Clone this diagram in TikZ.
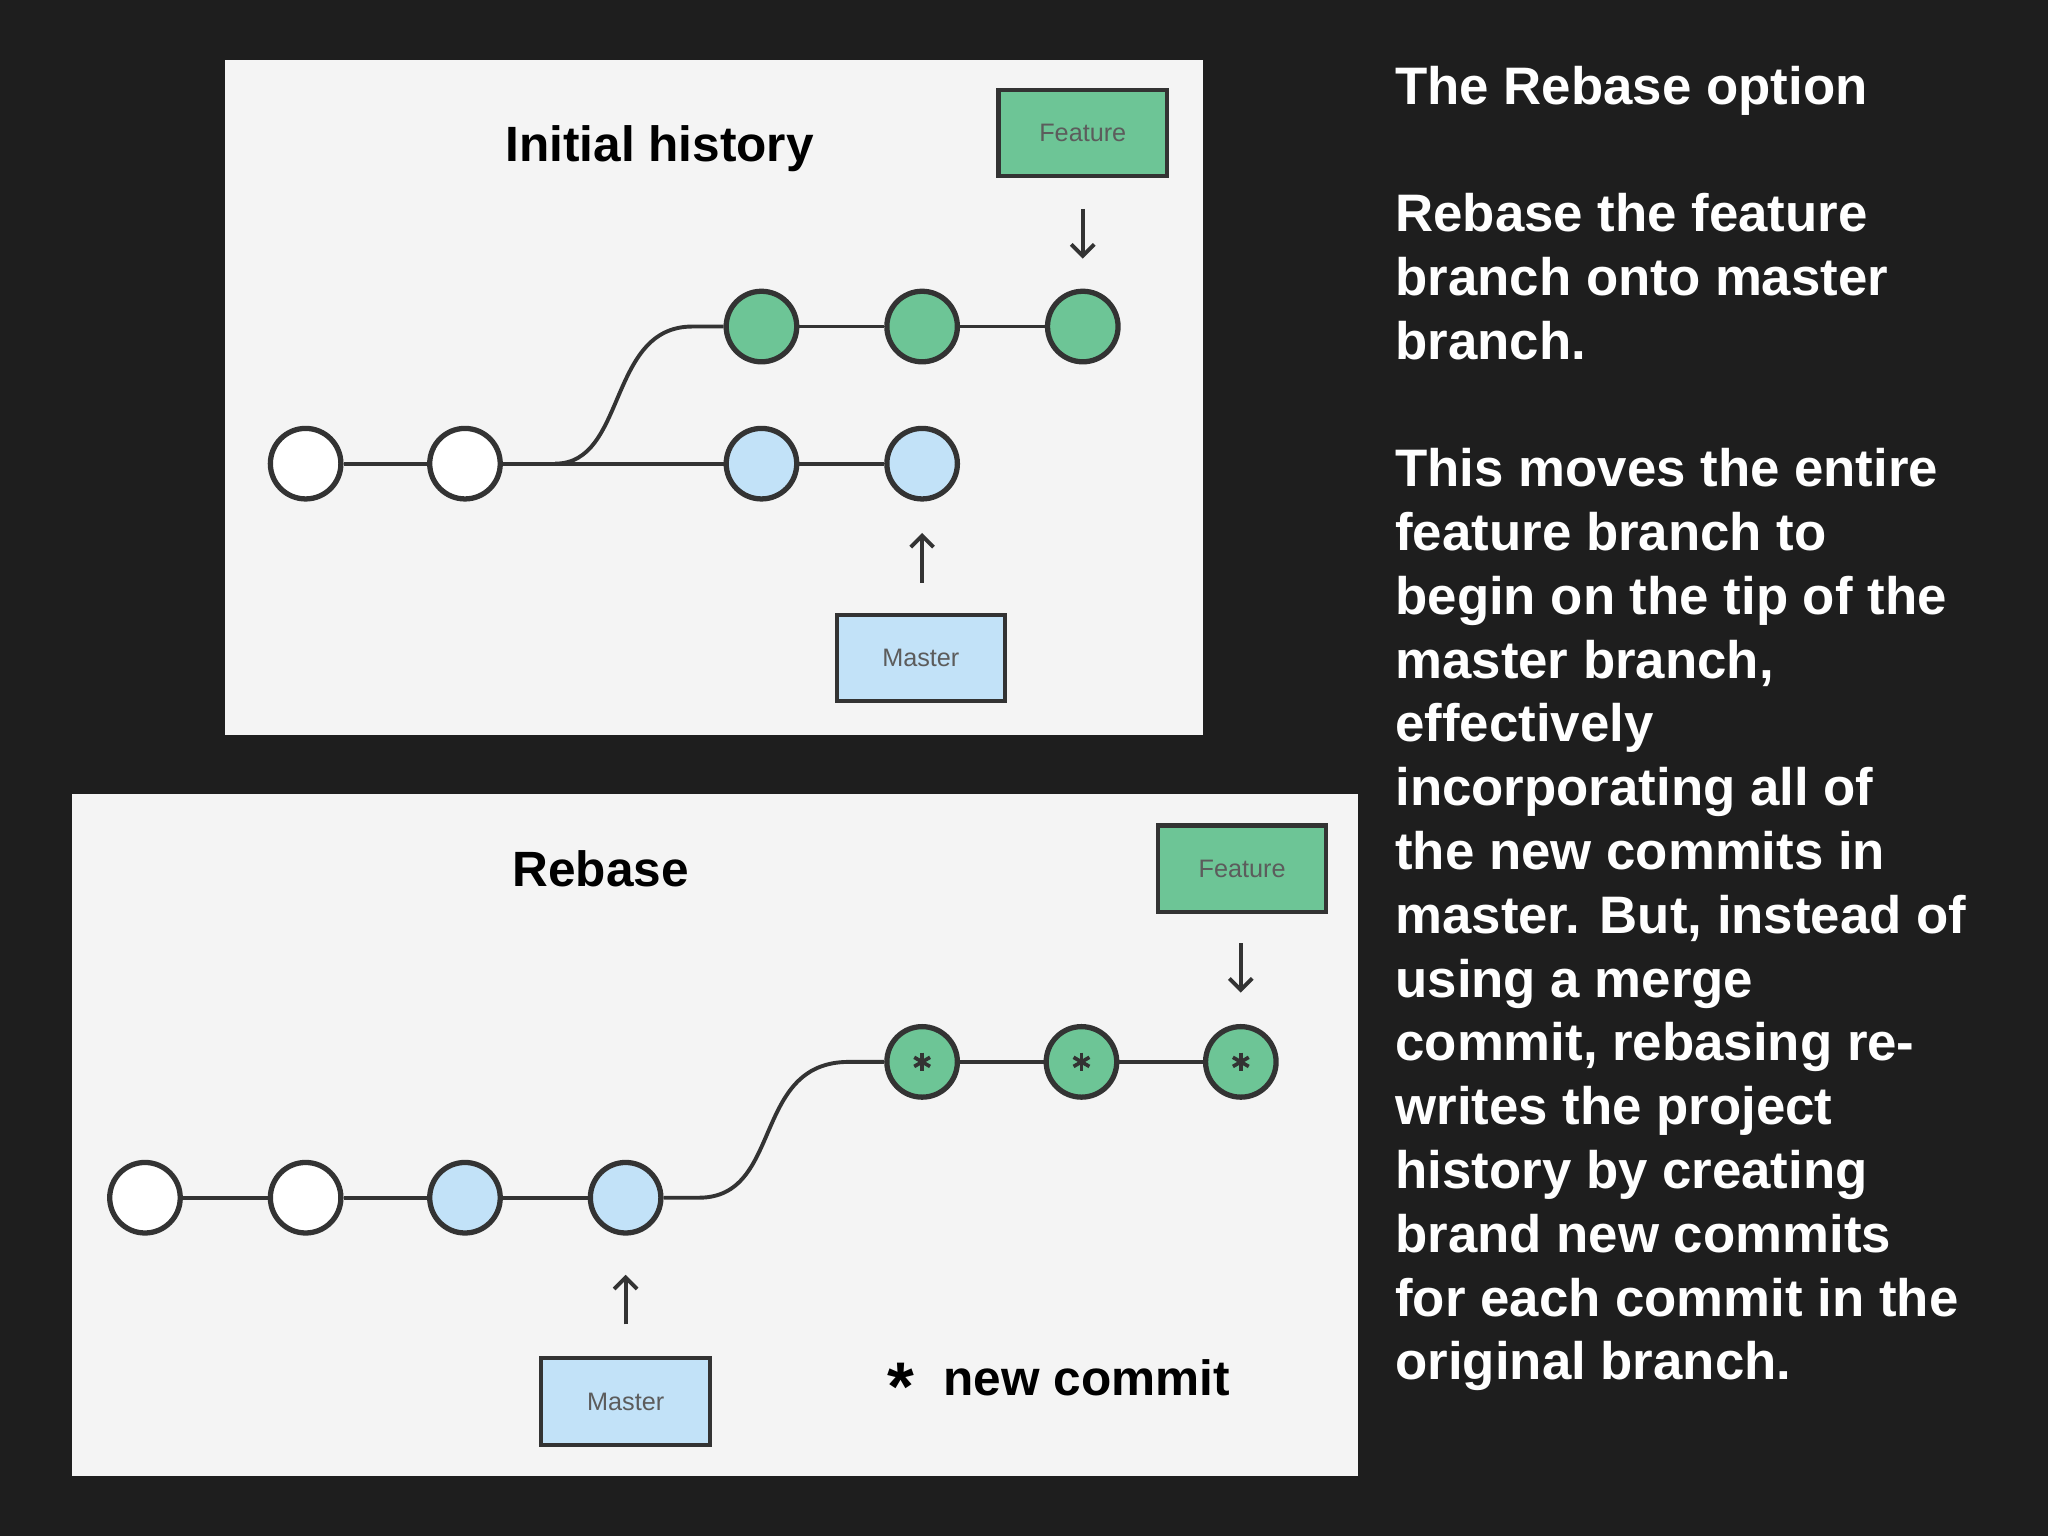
\documentclass[tikz,border=0pt]{standalone}
\usepackage{fontspec}
\setmainfont{Liberation Sans}
\usetikzlibrary{arrows.meta}
\definecolor{bg}{HTML}{1E1E1E}
\definecolor{panel}{HTML}{F4F4F4}
\definecolor{gr}{HTML}{6DC596}
\definecolor{bl}{HTML}{C2E2F8}
\definecolor{dk}{HTML}{333333}
\tikzset{
 commit/.style={circle,draw=dk,line width=2.3pt,minimum size=54*0.02cm,inner sep=0pt},
 wc/.style={commit,fill=white},
 gc/.style={commit,fill=gr},
 bc/.style={commit,fill=bl},
 lbl/.style={draw=dk,line width=1.8pt,minimum width=129*0.02cm,minimum height=66*0.02cm,font=\fontsize{11}{13}\selectfont,text=dk!80},
 conn/.style={dk,line width=1.7pt},
 ptr/.style={dk,line width=1.7pt,-{Straight Barb[length=5pt,width=10pt]}},
 ttl/.style={font=\bfseries\fontsize{21.6}{26}\selectfont,text=black},
}
\newcommand{\astk}[1]{\foreach \a in {90,150,210}{\draw[dk,line width=1.6pt] ([shift={(\a:7*0.02cm)}]#1.center) -- ([shift={(\a+180:7*0.02cm)}]#1.center);}}
\begin{document}
\begin{tikzpicture}[x=0.02cm,y=-0.02cm]
\fill[bg] (0,0) rectangle (1568,1176);
\useasboundingbox (0,0) rectangle (1568,1176);
% panel 1
\fill[panel] (172,46) rectangle (921,563);
\node[ttl] (t1) at (505,114) {Initial history};
\node[lbl,fill=gr] (f1) at (829,102) {Feature};
\node[lbl,fill=bl] (m1) at (705,504) {Master};
\node[wc] (a1) at (234,355) {};
\node[wc] (a2) at (356,355) {};
\node[bc] (b1) at (583,355) {};
\node[bc] (b2) at (706,355) {};
\node[gc] (g1) at (583,250) {};
\node[gc] (g2) at (706,250) {};
\node[gc] (g3) at (829,250) {};
\draw[conn] (a1) -- (a2); \draw[conn] (a2) -- (b1); \draw[conn] (b1) -- (b2);
\draw[conn] (g1) -- (g2); \draw[conn] (g2) -- (g3);
\coordinate (s1) at (425,355);
\draw[conn] (s1) .. controls (480,355) and (465,250) .. (530,250) -- (g1.west);
\coordinate (p1a) at (829,160); \coordinate (p1b) at (829,198);
\draw[ptr] (p1a) -- (p1b);
\coordinate (q1a) at (706,446); \coordinate (q1b) at (706,408);
\draw[ptr] (q1a) -- (q1b);
% panel 2
\fill[panel] (55,608) rectangle (1040,1130);
\node[ttl] (t2) at (460,665) {Rebase};
\node[lbl,fill=gr] (f2) at (951,665) {Feature};
\node[lbl,fill=bl] (m2) at (479,1073) {Master};
\node[wc] (c1) at (111,917) {};
\node[wc] (c2) at (234,917) {};
\node[bc] (c3) at (356,917) {};
\node[bc] (c4) at (479,917) {};
\node[gc] (n1) at (706,813) {};
\node[gc] (n2) at (828,813) {};
\node[gc] (n3) at (950,813) {};
\astk{n1}\astk{n2}\astk{n3}
\draw[conn] (c1) -- (c2); \draw[conn] (c2) -- (c3); \draw[conn] (c3) -- (c4);
\draw[conn] (n1) -- (n2); \draw[conn] (n2) -- (n3);
\draw[conn] (c4.east) -- (535,917) .. controls (600,917) and (575,813) .. (650,813) -- (n1.west);
\coordinate (p2a) at (950,722); \coordinate (p2b) at (950,760);
\draw[ptr] (p2a) -- (p2b);
\coordinate (q2a) at (479,1014); \coordinate (q2b) at (479,976);
\draw[ptr] (q2a) -- (q2b);
\node[font=\bfseries\fontsize{30}{30}\selectfont,anchor=center] (st) at (690,1062) {*};
\node[ttl,anchor=west] (nc) at (716,1055) {new commit};
% right text
\node[anchor=north west,align=left,inner sep=0pt,text=white,font=\bfseries\fontsize{23}{27.8}\selectfont] (txt) at (1068,50) {The Rebase option\\[27.8pt]Rebase the feature\\branch onto master\\branch.\\[27.8pt]This moves the entire\\feature branch to\\begin on the tip of the\\master branch,\\effectively\\incorporating all of\\the new commits in\\master. But, instead of\\using a merge\\commit, rebasing re-\\writes the project\\history by creating\\brand new commits\\for each commit in the\\original branch.};
\end{tikzpicture}
\end{document}
